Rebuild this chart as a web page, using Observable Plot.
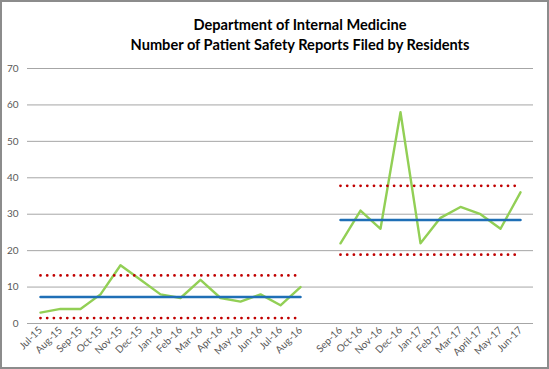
<!DOCTYPE html>
<html>
<head>
<meta charset="utf-8">
<script src="https://cdn.jsdelivr.net/npm/d3@7"></script>
<script src="https://cdn.jsdelivr.net/npm/@observablehq/plot@0.6"></script>
<style>
  html, body { margin: 0; padding: 0; background: #fff; }
  #wrap { position: relative; width: 549px; height: 369px; overflow: hidden; background: #fff; }
  #title { position: absolute; left: 50px; width: 500px; top: 15px; text-align: center;
           font-family: Lato, "Open Sans", sans-serif; font-weight: bold; font-size: 14.6px;
           line-height: 19.5px; color: #000; }
  #border { position: absolute; left: 0; top: 0; width: 549px; height: 369px; box-sizing: border-box;
            border: 2px solid #8c8c8c; pointer-events: none; }
  #chart { position: absolute; left: 0; top: 0; }
</style>
</head>
<body>
<div id="wrap">
  <div id="chart"></div>
  <div id="title">Department of Internal Medicine<br>Number of Patient Safety Reports Filed by Residents</div>
  <div id="border"></div>
</div>
<script>
const period1Months = ["Jul-15","Aug-15","Sep-15","Oct-15","Nov-15","Dec-15","Jan-16","Feb-16","Mar-16","Apr-16","May-16","Jun-16","Jul-16","Aug-16"];
const period1Reports = [3,4,4,8,16,12,8,7,12,7,6,8,5,10];
const gapLabel = [" "];
const period2Months = ["Sep-16","Oct-16","Nov-16","Dec-16","Jan-17","Feb-17","Mar-17","April-17","May-17","Jun-17"];
const period2Reports = [22,31,26,58,22,29,32,30,26,36];
const period1Limits = {mean: 7.3, upper: 13.2, lower: 1.5};
const period2Limits = {mean: 28.4, upper: 37.8, lower: 18.9};
const yTicks = [0,10,20,30,40,50,60,70];

const domain = [...period1Months, ...gapLabel, ...period2Months];
const p1 = period1Months.map((m, i) => ({month: m, value: period1Reports[i]}));
const p2 = period2Months.map((m, i) => ({month: m, value: period2Reports[i]}));

function limitLines(months, lim) {
  const dotted = {stroke: "#c00000", strokeWidth: 2.8, strokeDasharray: "0,6.7", strokeLinecap: "round"};
  return [
    Plot.line(months, {x: d => d, y: () => lim.mean, stroke: "#1f6fb6", strokeWidth: 2.5}),
    Plot.line(months, {x: d => d, y: () => lim.upper, ...dotted}),
    Plot.line(months, {x: d => d, y: () => lim.lower, ...dotted})
  ];
}

const chart = Plot.plot({
  width: 549,
  height: 369,
  marginLeft: 27,
  marginRight: 16,
  marginTop: 68,
  marginBottom: 46,
  style: {fontFamily: "Lato, 'Open Sans', sans-serif", fontSize: "10px", color: "#595959", background: "transparent"},
  x: {type: "point", domain, padding: 0.5, label: null},
  y: {domain: [0, 70], label: null},
  marks: [
    Plot.ruleY(yTicks, {stroke: "#a6a6a6", strokeWidth: 1}),
    Plot.axisY({ticks: yTicks, tickSize: 0, tickPadding: 9, label: null}),
    Plot.axisX({tickSize: 0, tickRotate: -45, tickPadding: 5, label: null, tickFormat: d => d}),
    Plot.line(p1, {x: "month", y: "value", stroke: "#92cf55", strokeWidth: 2.4}),
    Plot.line(p2, {x: "month", y: "value", stroke: "#92cf55", strokeWidth: 2.4}),
    ...limitLines(period1Months, period1Limits),
    ...limitLines(period2Months, period2Limits)
  ]
});
document.getElementById("chart").appendChild(chart);
</script>
</body>
</html>
